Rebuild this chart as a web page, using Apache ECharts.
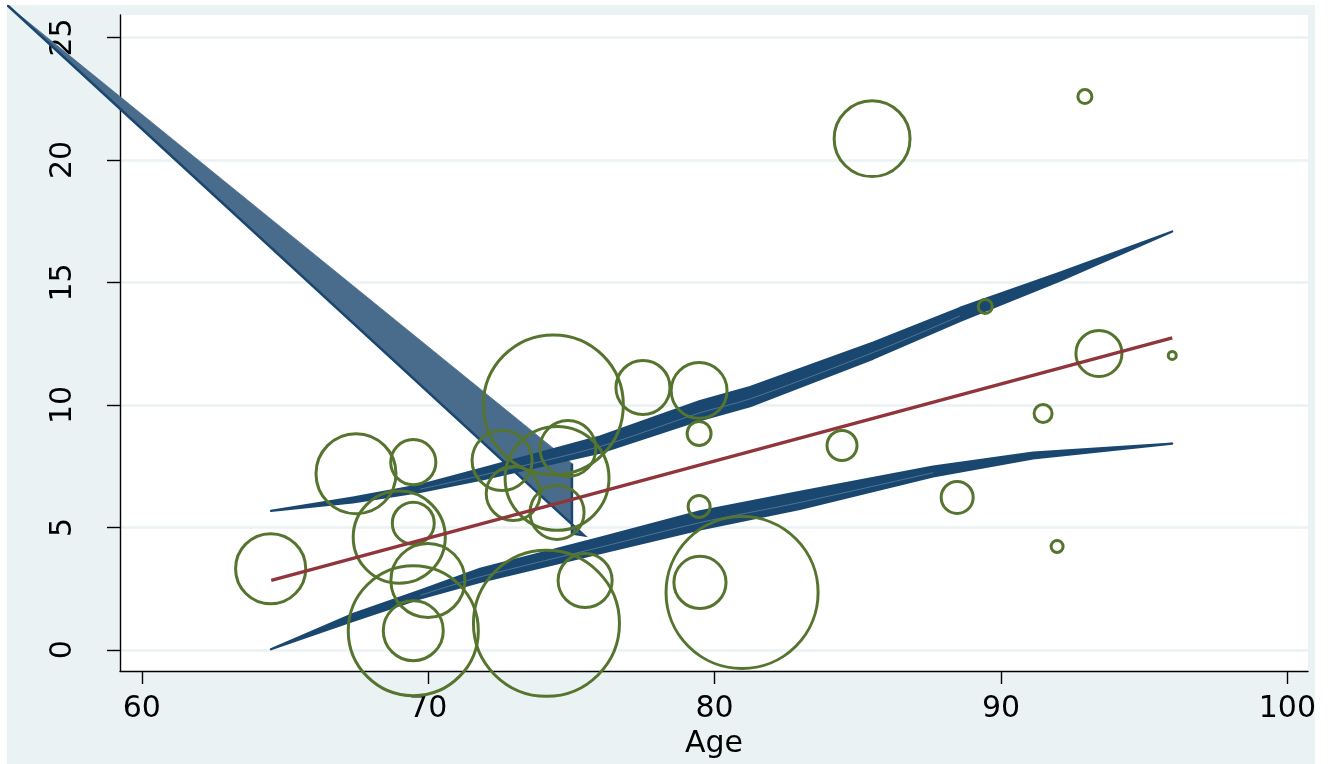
<!DOCTYPE html>
<html><head><meta charset="utf-8">
<script src="https://cdn.jsdelivr.net/npm/echarts@6/dist/echarts.min.js"></script>
<style>html,body{margin:0;padding:0;background:#fff}#c{width:1335px;height:764px}</style>
</head><body><div id="c"></div>
<script>
// ---- data ----
const xTicks = [60, 70, 80, 90, 100];
const yTicks = [0, 5, 10, 15, 20, 25];
const xTitle = 'Age';

// bubbles: age, value, weight
const bubbleAge = [64.50, 67.48, 69.48, 68.99, 69.48, 69.99, 69.48, 69.48, 74.13, 74.37, 72.58, 72.97, 74.50, 74.88, 74.50, 75.48, 77.50, 79.46, 79.46, 79.46, 79.49, 80.96, 85.50, 84.45, 88.47, 89.45, 91.47, 91.96, 92.93, 93.42, 95.98];
const bubbleVal = [3.31, 7.19, 7.66, 4.60, 5.17, 2.83, 0.78, 0.78, 1.08, 10.00, 7.73, 6.38, 7.00, 8.22, 5.61, 2.83, 10.71, 10.59, 8.83, 5.85, 2.75, 2.34, 20.87, 8.34, 6.22, 14.02, 9.65, 4.22, 22.59, 12.10, 12.02];
const bubbleWeight = [12.3, 16.0, 5.1, 21.2, 4.4, 13.7, 9.0, 42.3, 53.3, 49.0, 9.0, 7.3, 27.0, 7.8, 7.3, 7.3, 7.3, 7.8, 1.44, 1.21, 6.8, 57.8, 14.4, 2.25, 2.56, 0.49, 0.81, 0.36, 0.49, 5.3, 0.16];

// fitted line
const fitAge = [64.52, 95.98];
const fitVal = [2.83, 12.74];

// confidence band pieces (outer / inner edges)
const upperAge = [64.51, 67.37, 69.72, 71.81, 76.00, 79.49, 81.24, 85.54, 88.57, 92.07, 95.98];
const upperTop = [5.67, 6.22, 6.73, 7.38, 8.71, 10.16, 10.73, 12.55, 13.96, 15.40, 17.08];
const upperBot = [5.67, 6.02, 6.45, 6.94, 8.05, 9.38, 9.95, 11.89, 13.43, 15.08, 17.08];
const lowerAge = [64.51, 67.37, 69.72, 71.81, 76.00, 79.49, 82.98, 87.63, 91.12, 95.98];
const lowerTop = [0.02, 1.46, 2.42, 3.31, 4.57, 5.65, 6.45, 7.48, 8.05, 8.42];
const lowerBot = [0.02, 1.18, 2.10, 2.77, 3.95, 4.91, 5.75, 7.08, 7.81, 8.42];
const wedgeAge = [55.30, 75.02, 75.02, 75.44];
const wedgeVal = [26.33, 7.61, 4.75, 4.67];

// ---- styles ----
const NAVY = '#1a476f', FILL = '#4a6c8c', GREEN = '#55752f', MAROON = '#90353b', BG = '#eaf2f3';
const FONT = 'DejaVu Sans, Verdana, sans-serif';

function bandSeries(xs, top, bot, z) {
  return {
    type: 'custom', coordinateSystem: 'cartesian2d', clip: false, silent: true, z: z,
    data: [[xs[0], top[0]]],
    renderItem: function (params, api) {
      const pts = [], mid = [];
      for (let i = 0; i < xs.length; i++) pts.push(api.coord([xs[i], top[i]]));
      for (let i = xs.length - 1; i >= 0; i--) pts.push(api.coord([xs[i], bot[i]]));
      for (let i = 2; i < xs.length - 2; i++) mid.push(api.coord([xs[i], bot[i] * 0.62 + top[i] * 0.38]));
      return {
        type: 'group', children: [
          { type: 'polygon', shape: { points: pts }, style: { fill: NAVY, stroke: NAVY, lineWidth: 2.2, lineJoin: 'round' } },
          { type: 'polyline', shape: { points: mid, smooth: 0.3 }, style: { fill: null, stroke: '#5d7e9c', lineWidth: 1, opacity: 0.8 } }
        ]
      };
    }
  };
}

const wedgeSeries = {
  type: 'custom', coordinateSystem: 'cartesian2d', clip: false, silent: true, z: 2,
  data: [[wedgeAge[0], wedgeVal[0]]],
  renderItem: function (params, api) {
    const pts = wedgeAge.map((a, i) => api.coord([a, wedgeVal[i]]));
    const edge = [pts[0], pts[3], pts[2], pts[1]];
    return {
      type: 'group', children: [
        { type: 'polygon', shape: { points: pts }, style: { fill: FILL, stroke: FILL, lineWidth: 0.8 } },
        { type: 'polyline', shape: { points: edge }, style: { fill: null, stroke: NAVY, lineWidth: 2.5 } }
      ]
    };
  }
};

const chart = echarts.init(document.getElementById('c'), null, { renderer: 'canvas' });
const axisFont = { fontFamily: FONT, fontSize: 30, color: '#000' };

chart.setOption({
  animation: false,
  backgroundColor: BG,
  grid: { left: 120, right: 27, top: 15, bottom: 93, show: true, backgroundColor: '#fff', borderWidth: 0 },
  xAxis: {
    type: 'value', min: 59.24, max: 100.72,
    name: xTitle, nameLocation: 'middle', nameGap: 54,
    nameTextStyle: Object.assign({}, axisFont),
    axisLine: { show: true, onZero: false, lineStyle: { color: '#000', width: 1.4 } },
    axisTick: { show: true, length: 13, customValues: xTicks, lineStyle: { color: '#000', width: 1.4 } },
    axisLabel: Object.assign({ customValues: xTicks, margin: 23 }, axisFont),
    splitLine: { show: false }
  },
  yAxis: {
    type: 'value', min: -0.866, max: 25.92,
    axisLine: { show: true, onZero: false, lineStyle: { color: '#000', width: 1.4 } },
    axisTick: { show: true, length: 13, customValues: yTicks, lineStyle: { color: '#000', width: 1.4 } },
    axisLabel: Object.assign({ customValues: yTicks, margin: 42, rotate: 90 }, axisFont),
    splitLine: { show: true, lineStyle: { color: BG, width: 2.5 } }
  },
  graphic: [
    { type: 'rect', z: 1000, shape: { x: 0, y: 0, width: 1335, height: 5 }, style: { fill: '#fff' } },
    { type: 'rect', z: 1000, shape: { x: 0, y: 0, width: 7, height: 764 }, style: { fill: '#fff' } },
    { type: 'rect', z: 1000, shape: { x: 1315, y: 0, width: 20, height: 764 }, style: { fill: '#fff' } }
  ],
  series: [
    wedgeSeries,
    bandSeries(upperAge, upperTop, upperBot, 3),
    bandSeries(lowerAge, lowerTop, lowerBot, 3),
    {
      type: 'scatter', z: 5, clip: false, silent: true,
      data: bubbleAge.map((a, i) => [a, bubbleVal[i], bubbleWeight[i]]),
      symbol: 'circle',
      symbolSize: function (d) { return 20 * Math.sqrt(d[2]); },
      itemStyle: { color: 'rgba(0,0,0,0)', borderColor: GREEN, borderWidth: 3, opacity: 1 }
    },
    {
      type: 'line', z: 6, silent: true, symbol: 'none',
      data: fitAge.map((a, i) => [a, fitVal[i]]),
      lineStyle: { color: MAROON, width: 3.4 }
    }
  ]
});
</script></body></html>
